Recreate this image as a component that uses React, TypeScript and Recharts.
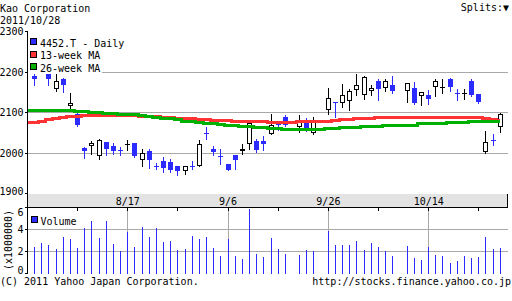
import React from "react";
import { ComposedChart, Bar, Line, XAxis, YAxis, CartesianGrid } from "recharts";

const FONT = "'DejaVu Sans Mono', monospace";
const BLUE = "#2b2bff";
const RED = "#ff3333";
const GREEN = "#00b000";
const GRID = "#a9a9a9";
const STRIP = "#e3e3e3";

// weekdays on the x axis; Japanese holidays stay empty
const dates = [
  "7/28", "7/29", "8/1", "8/2", "8/3", "8/4", "8/5",
  "8/8", "8/9", "8/10", "8/11", "8/12",
  "8/15", "8/16", "8/17", "8/18", "8/19",
  "8/22", "8/23", "8/24", "8/25", "8/26",
  "8/29", "8/30", "8/31", "9/1", "9/2",
  "9/5", "9/6", "9/7", "9/8", "9/9",
  "9/12", "9/13", "9/14", "9/15", "9/16",
  "9/19", "9/20", "9/21", "9/22", "9/23",
  "9/26", "9/27", "9/28", "9/29", "9/30",
  "10/3", "10/4", "10/5", "10/6", "10/7",
  "10/10", "10/11", "10/12", "10/13", "10/14",
  "10/17", "10/18", "10/19", "10/20", "10/21",
  "10/24", "10/25", "10/26", "10/27", "10/28",
];

const opens = [
  null, 2190, null, 2200, 2157, 2182, 2117,
  2097, 2013, 2018, 1992, 2027,
  2018, 2007, 2023, 2024, 1983,
  2004, 1968, 1981, 1978, 1969,
  1955, 1969, 1968, 2050, 2010,
  1992, 1973, 1994, 2004, 2023,
  2030, 2029, 2047, 2071, 2089,
  null, 2064, 2080, 2050, null,
  2107, 2127, 2123, 2128, 2156,
  2144, 2153, 2179, 2161, 2169,
  null, 2153, 2161, 2141, 2142,
  2163, 2163, 2183, 2149, 2148,
  2179, 2145, 2002, 2032, 2064,
];

const highs = [
  null, 2200, null, 2203, 2197, 2184, 2149,
  2101, 2014, 2029, 2034, 2028,
  2025, 2016, 2032, 2025, 2010,
  2011, 1975, 1989, 1986, 1969,
  1969, 1981, 2032, 2065, 2018,
  2010, 1974, 1994, 2022, 2080,
  2035, 2041, 2096, 2077, 2095,
  null, 2095, 2087, 2088, null,
  2161, 2127, 2171, 2158, 2194,
  2191, 2169, 2182, 2183, 2189,
  null, 2173, 2175, 2151, 2156,
  2183, 2183, 2184, 2159, 2159,
  2182, 2146, 2054, 2047, 2098,
];

const lows = [
  null, 2169, null, 2167, 2154, 2150, 2111,
  2066, 1987, 1998, 1984, 1996,
  1998, 1996, 2008, 1990, 1967,
  1962, 1960, 1953, 1954, 1946,
  1948, 1961, 1967, 2035, 1996,
  1972, 1957, 1961, 1998, 2010,
  2003, 2007, 2047, 2057, 2066,
  null, 2052, 2054, 2047, null,
  2097, 2089, 2113, 2107, 2144,
  2134, 2144, 2131, 2154, 2148,
  null, 2126, 2122, 2119, 2121,
  2140, 2148, 2153, 2130, 2134,
  2141, 2123, 2000, 2019, 2052,
];

const closes = [
  null, 2183, null, 2183, 2177, 2167, 2123,
  2068, 2006, 2024, 2031, 2010,
  2006, 2005, 2023, 1992, 1999,
  1982, 1966, 1964, 1959, 1955,
  1968, 1967, 2023, 2047, 2002,
  1990, 1958, 1982, 2010, 2074,
  2007, 2021, 2070, 2069, 2069,
  null, 2080, 2057, 2082, null,
  2136, 2125, 2144, 2154, 2167,
  2187, 2161, 2158, 2179, 2153,
  null, 2172, 2123, 2150, 2134,
  2177, 2163, 2164, 2147, 2148,
  2142, 2126, 2027, 2030, 2097,
];

// volume, millions of shares
const volumes = [
  2.58, 2.39, 2.76, 2.58, 2.21, 3.3, 3.12,
  2.3, 4.12, 4.76, 3.21, 4.76,
  2.67, 2.03, 3.76, 2.39, 4.21,
  3.3, 4.12, 2.85, 2.94, 2.12,
  2.21, 3.39, 3.12, 3.3, 2.3,
  1.58, 3.12, 1.58, 1.3, 5.85,
  1.76, 1.48, 3.21, 2.21, 1.76,
  null, 1.67, 2.12, 2.03, null,
  3.85, 2.58, 2.58, 2.58, 2.94,
  2.12, 2.76, 2.39, 2.03, 1.58,
  null, 2.48, 1.39, 1.21, 2.39,
  1.67, 1.58, 0.94, 1.12, 1.58,
  1.39, 1.48, 3.3, 2.21, 2.3,
];

const ma13 = [
  2076, 2076, 2079, 2082, 2084, 2087, 2089,
  2090, 2092, 2092, 2092, 2092,
  2092, 2092, 2092, 2092, 2091,
  2091, 2089, 2088, 2088, 2086,
  2085, 2084, 2083, 2083, 2081,
  2080, 2080, 2078, 2078, 2078,
  2078, 2077, 2076, 2075, 2076,
  2076, 2077, 2078, 2078, 2079,
  2079, 2081, 2082, 2083, 2084,
  2086, 2086, 2088, 2088, 2088,
  2088, 2088, 2088, 2088, 2088,
  2088, 2088, 2088, 2088, 2088,
  2088, 2088, 2085, 2082, 2080,
];

const ma26 = [
  2105, 2105, 2105, 2105, 2105, 2105, 2105,
  2103, 2103, 2101, 2101, 2098,
  2098, 2096, 2096, 2094, 2092,
  2090, 2088, 2085, 2084, 2082,
  2079, 2079, 2076, 2074, 2073,
  2071, 2069, 2069, 2066, 2066,
  2064, 2063, 2061, 2061, 2059,
  2058, 2058, 2058, 2058, 2059,
  2060, 2061, 2063, 2063, 2064,
  2066, 2066, 2066, 2067, 2069,
  2069, 2069, 2069, 2072, 2072,
  2072, 2074, 2075, 2075, 2075,
  2077, 2077, 2077, 2077, 2077,
];

const priceTicks = [1900, 2000, 2100, 2200, 2300];
const volumeTicks = [0, 2, 4, 6];
const dateTicks = [7, 14, 21, 28, 35, 42, 49, 56, 63];
const labelTicks = [14, 28, 42, 56];

const legendRows = [
  { name: "4452.T - Daily", color: BLUE },
  { name: "13-week MA", color: RED },
  { name: "26-week MA", color: GREEN },
];

function Candle(props: any) {
  const { x, y, width, height, payload } = props;
  if (!payload || payload.o == null || !Number.isFinite(y)) return null;
  const { o, h, l, c } = payload;
  const k = h > l ? height / (h - l) : 0;
  const py = (v: number) => Math.round(y + (h - v) * k);
  const col = Math.floor(x + width / 2);
  const top = py(Math.max(o, c));
  const bot = py(Math.min(o, c));
  const wt = py(h);
  const wb = py(l);
  if (c < o) {
    return (
      <g>
        <rect x={col} y={wt} width={1} height={wb - wt + 1} fill={BLUE} />
        <rect x={col - 2} y={top} width={5} height={Math.max(1, bot - top)} fill={BLUE} />
      </g>
    );
  }
  return (
    <g>
      <rect x={col} y={wt} width={1} height={wb - wt + 1} fill="#000" />
      {bot - top >= 2 ? (
        <rect x={col - 1.5} y={top + 0.5} width={4} height={bot - top - 1} fill="#fff" stroke="#000" />
      ) : (
        <rect x={col - 2} y={top} width={5} height={Math.max(1, bot - top)} fill="#000" />
      )}
    </g>
  );
}

function VolBar(props: any) {
  const { x, y, width, height } = props;
  if (!height || !Number.isFinite(y)) return null;
  const col = Math.floor(x + width / 2);
  const t = Math.round(y);
  return <rect x={col} y={t} width={1} height={Math.round(y + height) - t} fill={BLUE} />;
}

function PriceTick(props: any) {
  const { x, y, payload } = props;
  const shift = payload.value === 1900 ? -2 : 0;
  return (
    <text x={x} y={y + shift} dy="0.36em" textAnchor="end" fontSize={10} fill="#000" fontFamily={FONT}>
      {payload.value}
    </text>
  );
}

function VolTick(props: any) {
  const { x, y, payload } = props;
  const v = payload.value;
  const shift = v === 6 ? 5 : v === 0 ? -3 : 0;
  return (
    <text x={x} y={y + shift} dy="0.36em" textAnchor="end" fontSize={10} fill="#000" fontFamily={FONT}>
      {v}
    </text>
  );
}

function DateTick(props: any) {
  const { x, y, payload } = props;
  const v = payload.value;
  const col = Math.floor(x) + 0.5;
  return (
    <g>
      <line x1={col} x2={col} y1={y} y2={y + 3} stroke="#000" />
      {labelTicks.includes(v) && (
        <text x={x} y={y - 2.5} textAnchor="middle" fontSize={10} fill="#000" fontFamily={FONT}>
          {dates[v]}
        </text>
      )}
    </g>
  );
}

export default function App() {
  const rows = dates.map((date, i) => ({
    i,
    date,
    o: opens[i],
    h: highs[i],
    l: lows[i],
    c: closes[i],
    vol: volumes[i],
    ma13: ma13[i],
    ma26: ma26[i],
  }));
  const black = { stroke: "#000" };

  return (
    <div
      className="kao"
      style={{
        position: "fixed",
        left: 0,
        top: 0,
        width: 512,
        height: 301,
        background: "#fff",
        overflow: "hidden",
        fontFamily: FONT,
        fontSize: 10,
      }}
    >
      <style>{`.kao svg line, .kao svg rect, .kao svg path { shape-rendering: crispEdges; }`}</style>

      <div
        style={{
          position: "absolute",
          left: 27,
          top: 194,
          width: 481,
          height: 13,
          boxSizing: "border-box",
          background: STRIP,
          borderLeft: "1px solid #000",
          borderRight: "1px solid #000",
        }}
      />

      {/* price panel */}
      <div style={{ position: "absolute", left: 0, top: 0 }}>
        <ComposedChart width={512} height={200} data={rows} margin={{ top: 31.5, right: 4.5, bottom: 6.5, left: 0 }}>
          <CartesianGrid stroke={GRID} horizontalValues={[2000, 2100, 2200]} verticalValues={labelTicks} />
          <Line dataKey="ma13" type="step" stroke={RED} strokeWidth={3} dot={false} isAnimationActive={false} />
          <Line dataKey="ma26" type="step" stroke={GREEN} strokeWidth={3} dot={false} isAnimationActive={false} />
          <Bar
            dataKey={(d: any) => (d.o == null ? null : [d.l, d.h])}
            barSize={5}
            shape={Candle}
            isAnimationActive={false}
          />
          <XAxis
            dataKey="i"
            type="number"
            domain={[0, 67]}
            ticks={dateTicks}
            interval={0}
            orientation="bottom"
            mirror
            height={0}
            tick={false}
            tickSize={3}
            axisLine={black}
            tickLine={black}
          />
          <XAxis
            xAxisId="top"
            dataKey="i"
            type="number"
            domain={[0, 67]}
            ticks={dateTicks}
            interval={0}
            orientation="top"
            mirror
            height={0}
            tick={false}
            tickSize={3}
            axisLine={black}
            tickLine={black}
          />
          <YAxis
            domain={[1900, 2300]}
            ticks={priceTicks}
            interval={0}
            width={27.5}
            tickSize={3}
            tickMargin={1}
            tick={<PriceTick />}
            axisLine={black}
            tickLine={black}
          />
          <YAxis
            yAxisId="r"
            orientation="right"
            mirror
            width={0}
            domain={[1900, 2300]}
            ticks={[2000, 2100, 2200]}
            interval={0}
            tick={false}
            tickSize={3}
            axisLine={black}
            tickLine={black}
          />
        </ComposedChart>
      </div>

      {/* volume panel */}
      <div style={{ position: "absolute", left: 0, top: 0 }}>
        <ComposedChart width={512} height={301} data={rows} margin={{ top: 193.5, right: 4.5, bottom: 27.5, left: 0 }}>
          <CartesianGrid stroke={GRID} horizontalValues={[2, 4]} verticalValues={labelTicks} />
          <Bar dataKey="vol" barSize={1} shape={VolBar} isAnimationActive={false} />
          <XAxis
            dataKey="i"
            type="number"
            domain={[0, 67]}
            ticks={dateTicks}
            interval={0}
            orientation="top"
            height={14}
            tickSize={0}
            tickMargin={0}
            tickLine={false}
            tick={<DateTick />}
            axisLine={black}
          />
          <XAxis
            xAxisId="b"
            dataKey="i"
            type="number"
            domain={[0, 67]}
            orientation="bottom"
            mirror
            height={0}
            tick={false}
            tickLine={false}
            axisLine={black}
          />
          <YAxis
            domain={[0, 6]}
            ticks={volumeTicks}
            interval={0}
            width={27.5}
            tickSize={3}
            tickMargin={1}
            tick={<VolTick />}
            axisLine={black}
            tickLine={black}
          />
          <YAxis
            yAxisId="r"
            orientation="right"
            mirror
            width={0}
            domain={[0, 6]}
            ticks={[2, 4]}
            interval={0}
            tick={false}
            tickSize={3}
            axisLine={black}
            tickLine={black}
          />
        </ComposedChart>
      </div>

      {/* titles, legends, footer */}
      <svg
        width={512}
        height={301}
        style={{ position: "absolute", left: 0, top: 0, pointerEvents: "none" }}
        fontFamily={FONT}
        fontSize={10}
        fill="#000"
      >
        <text x={0} y={12}>Kao Corporation</text>
        <text x={0} y={24}>2011/10/28</text>
        <text x={509} y={11} textAnchor="end">Splits:▼</text>

        {legendRows.map((r, k) => (
          <g key={r.name}>
            <rect x={28} y={36 + k * 12.5} width={r.name.length * 6 + 14} height={12.5} fill="#fff" />
            <rect x={30.5} y={38.5 + k * 12.5} width={6} height={6} fill={r.color} stroke="#000" />
            <text x={40} y={46.5 + k * 12.5}>{r.name}</text>
          </g>
        ))}

        <rect x={31.5} y={216.5} width={6} height={6} fill={BLUE} stroke="#000" />
        <text x={40.5} y={224.5}>Volume</text>

        <text transform="translate(8.5,240) rotate(-90)" textAnchor="middle" dy="0.35em">
          (x1000000)
        </text>

        <text x={0} y={285}>(C) 2011 Yahoo Japan Corporation.</text>
        <text x={511} y={285} textAnchor="end">http://stocks.finance.yahoo.co.jp</text>
      </svg>
    </div>
  );
}
